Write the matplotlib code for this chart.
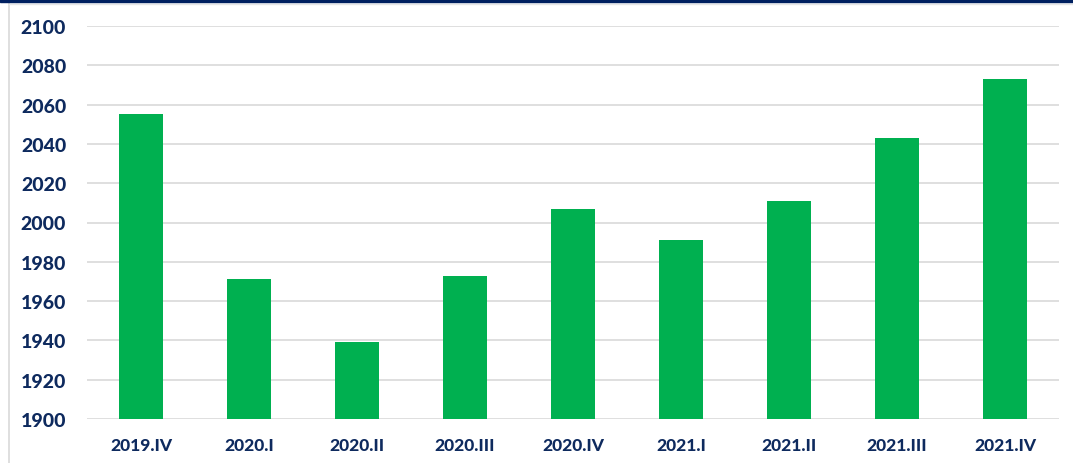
import matplotlib.pyplot as plt
from matplotlib.patches import Rectangle
from matplotlib.lines import Line2D

quarters = ['2019.IV', '2020.I', '2020.II', '2020.III', '2020.IV',
            '2021.I', '2021.II', '2021.III', '2021.IV']
values = [2055, 1971, 1939, 1973, 2007, 1991, 2011, 2043, 2073]
yticks = list(range(1900, 2101, 20))

navy = '#0E2A5E'
green = '#00B050'

plt.rcParams['font.family'] = ['Lato', 'DejaVu Sans']

W, H = 1073, 464
fig = plt.figure(figsize=(W / 100, H / 100), dpi=100)
ax = fig.add_axes([87 / W, 1 - 420 / H, (1059 - 87) / W, (420 - 27) / H])

ax.bar(range(len(quarters)), values, width=0.41, color=green, zorder=3)
ax.set_xlim(-0.5, len(quarters) - 0.5)
ax.set_ylim(1900, 2100)
ax.set_yticks(yticks)
ax.set_xticks(range(len(quarters)))
ax.set_xticklabels(quarters)
ax.grid(axis='y', color='#D9D9D9', linewidth=1.2, zorder=0)
for s in ax.spines.values():
    s.set_visible(False)
ax.tick_params(length=0)
ax.tick_params(axis='y', pad=15, labelsize=14, labelcolor=navy)
ax.tick_params(axis='x', pad=13, labelsize=12.5, labelcolor=navy)
for lab in ax.get_xticklabels() + ax.get_yticklabels():
    lab.set_fontweight('black')

# frame pieces of the surrounding chart
fig.patches.append(Rectangle((0, 1 - 3 / H), 1, 3 / H, transform=fig.transFigure,
                             color='#002060', zorder=5))
fig.lines.append(Line2D([9 / W, 9 / W], [0, 1 - 4 / H], transform=fig.transFigure,
                        color='#D9D9D9', linewidth=1.2))
fig.lines.append(Line2D([9 / W, 1], [1 - 4.5 / H, 1 - 4.5 / H], transform=fig.transFigure,
                        color='#E6E6E6', linewidth=1.0))

fig.savefig('out.png', dpi=100)
